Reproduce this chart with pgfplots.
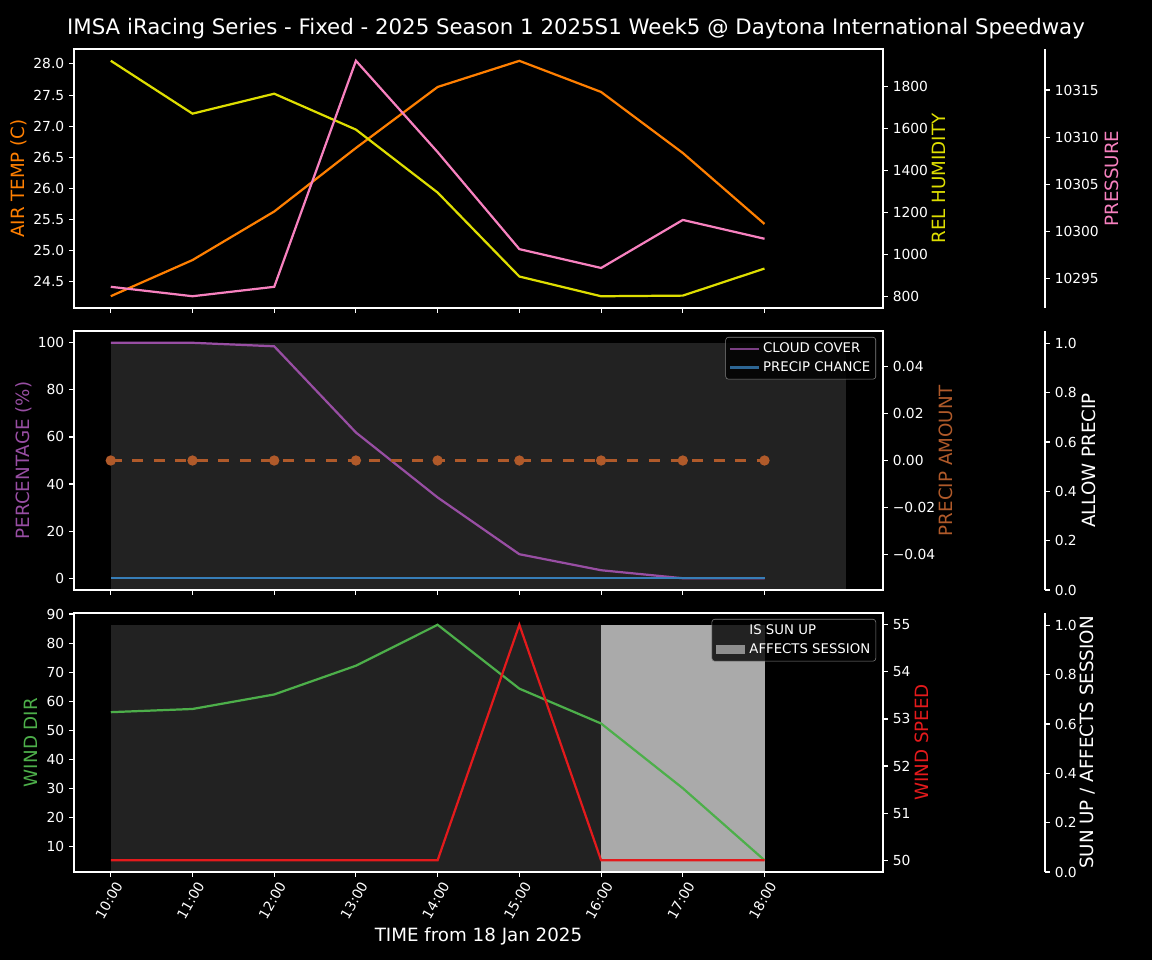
\documentclass[border=0pt]{standalone}
\usepackage{fontspec}
\setmainfont{DejaVu Sans}
\usepackage{pgfplots}
\pgfplotsset{compat=1.18}

\definecolor{cTemp}{HTML}{FF7F00}
\definecolor{cHum}{HTML}{DEDE00}
\definecolor{cPres}{HTML}{F781BF}
\definecolor{cCloud}{HTML}{984EA3}
\definecolor{cChance}{HTML}{377EB8}
\definecolor{cAmt}{HTML}{B05A2A}
\definecolor{cDir}{HTML}{4DAF4A}
\definecolor{cSpd}{HTML}{E41A1C}
\definecolor{cFill}{HTML}{222222}
\definecolor{cAff}{HTML}{AAAAAA}

% 1 px of the reference = 0.72bp
\pgfplotsset{
  base/.style={
    scale only axis, width=582.48bp, height=186.48bp,
    xmin=-0.45, xmax=9.45,
    axis line style={white, line width=0.8bp},
    tick style={white, line width=0.8bp},
    tick align=outside, major tick length=3.5bp,
    tick label style={white, font=\fontsize{10}{11}\selectfont},
    /pgf/number format/assume math mode=true,
    /pgf/number format/1000 sep={},
    scaled y ticks=false,
    label style={font=\fontsize{13.2}{15}\selectfont},
    ylabel style={anchor=center},
    xtick={0,...,8}, xticklabels={},
    xtick pos=left, ytick pos=left,
  },
  right/.style={base, axis x line=none, axis y line*=right, ytick pos=right},
  wide/.style={right, width=699.12bp, xmax=11.4319},
  ln/.style={line width=1.6bp},
  leg/.style={legend style={at={(rel axis cs:1,1)}, anchor=north east,
    xshift=-5bp, yshift=-4.3bp, fill=black, fill opacity=0.8,
    draw=gray, text opacity=1, text=white, rounded corners=2bp,
    font=\fontsize{9.6}{10}\selectfont, row sep=3bp, column sep=2bp,
    inner xsep=3bp, inner ysep=3bp,
    nodes={inner sep=1bp}},
    legend cell align=left},
}

\begin{document}
\begin{tikzpicture}
\path[use as bounding box] (0,0) rectangle (829.44bp,-691.2bp);
\fill[black] (0,0) rectangle (829.44bp,-691.2bp);
\node[white, font=\fontsize{15.4}{18}\selectfont] at (414.72bp,-20.6bp)
  {IMSA iRacing Series - Fixed - 2025 Season 1 2025S1 Week5 @ Daytona International Speedway};

% ---------- panel 1 ----------
\begin{axis}[base, at={(53.28bp,-35.28bp)}, anchor=north west,
  ymin=24.08, ymax=28.24, ytick={24.5,25,25.5,26,26.5,27,27.5,28},
  yticklabel style={/pgf/number format/.cd, fixed, fixed zerofill, precision=1},
  ylabel={AIR TEMP (C)},
  ylabel style={cTemp, at={(axis description cs:-0.068,0.5)}}]
\addplot[cTemp, ln] coordinates {(0,24.27)(1,24.85)(2,25.63)(3,26.65)(4,27.63)(5,28.05)(6,27.55)(7,26.57)(8,25.43)};
\end{axis}
\begin{axis}[right, at={(53.28bp,-35.28bp)}, anchor=north west,
  ymin=744, ymax=1978, ytick={800,1000,1200,1400,1600,1800},
  ylabel={REL HUMIDITY},
  ylabel style={cHum, at={(axis description cs:1.0692,0.5)}}]
\addplot[cHum, ln] coordinates {(0,1922)(1,1670)(2,1765)(3,1594)(4,1294)(5,894)(6,800)(7,803)(8,932)};
\end{axis}
\begin{axis}[wide, at={(53.28bp,-35.28bp)}, anchor=north west,
  ymin=10291.85, ymax=10319.35, ytick={10295,10300,10305,10310,10315},
  yticklabel style={/pgf/number format/.cd, fixed, precision=0},
  ylabel={PRESSURE},
  ylabel style={cPres, at={(axis description cs:1.069,0.5)}}]
\addplot[cPres, ln] coordinates {(0,10294.1)(1,10293.1)(2,10294.1)(3,10318.1)(4,10308.4)(5,10298.1)(6,10296.1)(7,10301.2)(8,10299.2)};
\end{axis}

% ---------- panel 2 ----------
\begin{axis}[wide, at={(53.28bp,-238.32bp)}, anchor=north west,
  ymin=0, ymax=1.05, ytick={0,0.2,0.4,0.6,0.8,1},
  yticklabel style={/pgf/number format/.cd, fixed, fixed zerofill, precision=1},
  ylabel={ALLOW PRECIP},
  ylabel style={white, at={(axis description cs:1.0453,0.5)}}]
\addplot[fill=cFill, draw=none] coordinates {(0,1)(9,1)} \closedcycle;
\end{axis}
\begin{axis}[base, at={(53.28bp,-238.32bp)}, anchor=north west,
  ymin=-5, ymax=105, ytick={0,20,40,60,80,100},
  ylabel={PERCENTAGE (\%)},
  ylabel style={cCloud, at={(axis description cs:-0.0618,0.5)}}, leg,
  legend image code/.code={\path[#1, draw=none, fill, sharp corners] (0bp,-0.85bp) rectangle (21bp,0.85bp);}]
\addplot[cCloud, ln] coordinates {(0,100)(1,100)(2,98.5)(3,61.9)(4,34.3)(5,10.2)(6,3.4)(7,0)(8,0)};
\addlegendentry{CLOUD COVER}
\addplot[cChance, ln] coordinates {(0,0)(1,0)(2,0)(3,0)(4,0)(5,0)(6,0)(7,0)(8,0)};
\addlegendentry{PRECIP CHANCE}
\end{axis}
\begin{axis}[right, at={(53.28bp,-238.32bp)}, anchor=north west,
  ymin=-0.055, ymax=0.055, ytick={-0.04,-0.02,0,0.02,0.04},
  yticklabels={−0.04,−0.02,0.00,0.02,0.04},
  ylabel={PRECIP AMOUNT},
  ylabel style={cAmt, at={(axis description cs:1.0779,0.5)}}]
\addplot[cAmt, ln, dash pattern=on 7.9bp off 7.6bp, mark=*, mark size=3.3bp,
  mark options={solid, line width=0.8bp}] coordinates {(0,0)(1,0)(2,0)(3,0)(4,0)(5,0)(6,0)(7,0)(8,0)};
\end{axis}

% ---------- panel 3 ----------
\begin{axis}[wide, at={(53.28bp,-441.36bp)}, anchor=north west,
  ymin=0, ymax=1.05, ytick={0,0.2,0.4,0.6,0.8,1},
  yticklabel style={/pgf/number format/.cd, fixed, fixed zerofill, precision=1},
  ylabel={SUN UP / AFFECTS SESSION},
  ylabel style={white, at={(axis description cs:1.0443,0.5)}}]
\addplot[fill=cFill, draw=none] coordinates {(0,1)(8,1)} \closedcycle;
\addplot[fill=cAff, draw=none] coordinates {(6,1)(8,1)} \closedcycle;
\end{axis}
\begin{axis}[base, at={(53.28bp,-441.36bp)}, anchor=north west,
  ymin=1.14, ymax=90.36, ytick={10,20,30,40,50,60,70,80,90},
  xticklabels={10:00,11:00,12:00,13:00,14:00,15:00,16:00,17:00,18:00},
  xticklabel style={rotate=60, anchor=north east, xshift=2.5bp},
  xlabel={TIME from 18 Jan 2025},
  xlabel style={white, at={(axis description cs:0.5,-0.247)}, anchor=center},
  ylabel={WIND DIR},
  ylabel style={cDir, at={(axis description cs:-0.0532,0.5)}}]
\addplot[cDir, ln] coordinates {(0,56.2)(1,57.3)(2,62.3)(3,72.2)(4,86.3)(5,64.3)(6,52.3)(7,30)(8,5.2)};
\end{axis}
\begin{axis}[right, at={(53.28bp,-441.36bp)}, anchor=north west,
  ymin=49.75, ymax=55.25, ytick={50,51,52,53,54,55},
  ylabel={WIND SPEED},
  ylabel style={cSpd, at={(axis description cs:1.0482,0.5)}}, leg,
  legend image code/.code={\fill[#1, sharp corners] (0bp,-3.2bp) rectangle (21bp,3.2bp);}]
\addplot[cSpd, ln, forget plot] coordinates {(0,50)(1,50)(2,50)(3,50)(4,50)(5,55)(6,50)(7,50)(8,50)};
\addlegendimage{fill=cFill, draw=none}
\addlegendentry{IS SUN UP}
\addlegendimage{fill=cAff, draw=none}
\addlegendentry{AFFECTS SESSION}
\end{axis}
\end{tikzpicture}
\end{document}
